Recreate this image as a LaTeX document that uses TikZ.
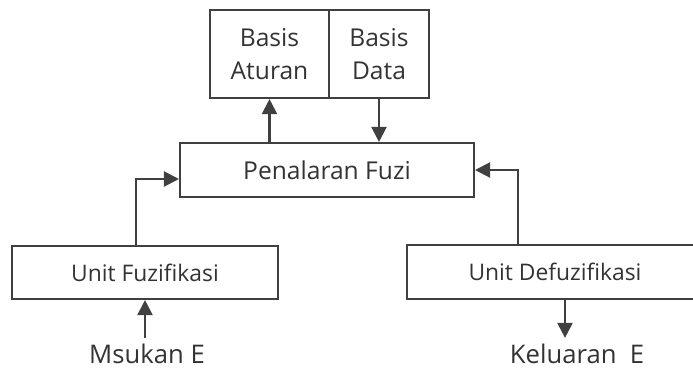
\documentclass[tikz,border=0pt]{standalone}
\usepackage{fontspec}
\setmainfont{Open Sans}
\usetikzlibrary{arrows.meta}
\definecolor{linegray}{HTML}{404040}
\definecolor{textgray}{HTML}{333333}

\begin{document}
\begin{tikzpicture}[x=0.02cm,y=-0.02cm,>={Triangle[length=3mm,width=3mm]},
  every node/.style={text=textgray},
  box/.style={draw=linegray,line width=1.2pt,align=center,inner sep=0pt},
  link/.style={->,draw=linegray,line width=1.2pt}]
\useasboundingbox (0,0) rectangle (693,369);
\clip (0,0) rectangle (693,369);
% knowledge base on top
\node[box,minimum width=2.38cm,minimum height=1.76cm,font=\fontsize{14}{19}\selectfont] (aturan) at (269.5,54) {Basis\\Aturan};
\node[box,minimum width=2.0cm,minimum height=1.76cm,font=\fontsize{14}{19}\selectfont] (data) at (379,54) {Basis\\Data};
\node[box,minimum width=5.88cm,minimum height=1.08cm,font=\fontsize{14}{16}\selectfont] (nalar) at (327,170) {Penalaran Fuzi};
% input and output units
\node[box,minimum width=5.32cm,minimum height=1.06cm,font=\fontsize{13}{15}\selectfont] (fuz) at (145,272.5) {Unit Fuzifikasi};
\node[box,minimum width=5.92cm,minimum height=1.08cm,font=\fontsize{13}{15}\selectfont] (defuz) at (555,272) {Unit Defuzifikasi};
\node[font=\fontsize{14.6}{16}\selectfont,anchor=base,inner sep=1pt] (masuk) at (147,363) {Msukan E};
\node[font=\fontsize{14.6}{16}\selectfont,anchor=base,inner sep=1pt] (keluar) at (577,363) {Keluaran~~E};
% connectors
\draw[link] (aturan.south |- nalar.north) -- (aturan.south);
\draw[link] (data.south) -- (data.south |- nalar.north);
\draw[link] ([xshift=-0.18cm]fuz.north) |- ([yshift=-0.18cm]nalar.west);
\draw[link] ([xshift=-0.74cm]defuz.north) |- (nalar.east);
\draw[link] ([yshift=2pt]masuk.north -| fuz.south) -- (fuz.south);
\draw[link] ([xshift=0.2cm]defuz.south) -- ([xshift=0.2cm,yshift=2pt]defuz.south |- keluar.north);
\end{tikzpicture}
\end{document}
